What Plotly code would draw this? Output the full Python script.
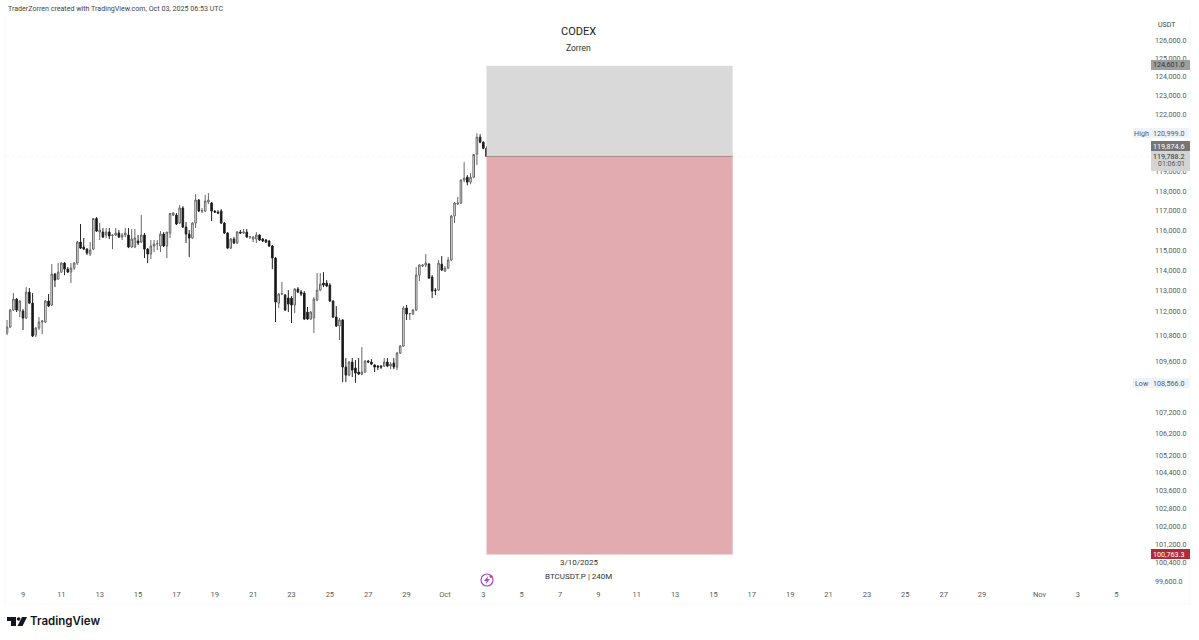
import pandas as pd
import numpy as np
import plotly.graph_objects as go

# BTCUSDT.P 4H candles
open_prices = [110940, 111230, 112053, 112589, 112005, 112005, 111666, 112932, 112394, 110844,
    111181, 111472, 111472, 112492, 112297, 113818, 113572, 113917, 114364, 114065,
    113917, 114115, 114364, 115415, 115165, 115060, 114812, 115060, 116600, 115915,
    115915, 115765, 115915, 115740, 115765, 115865, 115665, 115765, 115765, 115165,
    115165, 115465, 115415, 115765, 115060, 114812, 115215, 115315, 115215, 115815,
    115215, 115865, 116775, 116775, 116370, 117130, 116170, 115815, 115615, 116370,
    117540, 116975, 116975, 117440, 117385, 116975, 116925, 116975, 116370, 115865,
    115110, 115565, 115365, 115915, 115865, 115915, 115665, 115565, 115565, 115765,
    115565, 115515, 115465, 115215, 114612, 112394, 112834, 112785, 112640, 112640,
    112297, 113080, 112932, 112883, 111957, 111617, 111666, 112540, 113030, 113375,
    113375, 113277, 112492, 111714, 111278, 111569, 109313, 108932, 109551, 109265,
    109075, 108980, 109075, 109598, 109551, 109408, 109360, 109360, 109360, 109551,
    109360, 109503, 109313, 109980, 110315, 112150, 111860, 111860, 112053, 113770,
    114215, 114264, 114314, 113670, 113030, 113030, 114314, 113967, 114115, 114514,
    116725, 117335, 117385, 118560, 118710, 118455, 118710, 119910, 120790, 120527,
    120211]
high_prices = [111569, 112100, 112883, 112640, 112540, 112100, 113178, 113130, 112883, 111230,
    111714, 111560, 112540, 112834, 114314, 113868, 114364, 114414, 114414, 114165,
    114364, 114414, 115465, 116320, 115615, 115110, 115415, 116620, 116670, 116370,
    116115, 116115, 116115, 115790, 116115, 116016, 115865, 116115, 116115, 116065,
    116065, 115765, 116775, 115865, 115110, 115515, 115515, 115515, 115965, 115915,
    115915, 116875, 116925, 116875, 117280, 117230, 116420, 116016, 116420, 117845,
    117590, 117130, 117795, 117895, 117440, 117025, 117025, 117080, 116420, 115915,
    115615, 115665, 115965, 116016, 116065, 116065, 115715, 115715, 115915, 115815,
    115615, 115565, 115515, 115265, 114662, 112883, 113425, 112834, 113030, 112736,
    113130, 113178, 113030, 112981, 112200, 112005, 112690, 113868, 113868, 113917,
    113523, 113375, 112540, 112248, 111666, 111617, 109740, 109598, 109740, 109646,
    109740, 110267, 109646, 109646, 109693, 109455, 109408, 109408, 109740, 109740,
    109551, 109740, 110028, 110363, 112248, 112297, 111908, 112100, 114165, 114314,
    114314, 114812, 114364, 113770, 113130, 114514, 114712, 114215, 114662, 116775,
    117440, 117695, 118610, 119490, 118820, 118920, 119910, 120999, 120950, 120580,
    120320]
low_prices = [110844, 111181, 112005, 111957, 111714, 111084, 111617, 112345, 110748, 110748,
    111084, 110892, 111423, 112200, 112248, 113178, 113523, 113868, 113770, 113868,
    113375, 114016, 114264, 115060, 115012, 114762, 114712, 115012, 115915, 115515,
    115615, 115615, 115565, 115060, 115715, 115615, 115515, 115665, 115110, 115110,
    115110, 115265, 115365, 114612, 114364, 114564, 114912, 115012, 114912, 115165,
    114612, 115615, 116725, 116270, 116320, 116120, 115365, 114662, 115565, 116120,
    116925, 116875, 116925, 117335, 116470, 116875, 116825, 116320, 115815, 115060,
    115060, 115315, 115315, 115815, 115815, 115615, 115565, 115415, 115365, 115465,
    115415, 115365, 115165, 114065, 111472, 112150, 112785, 112005, 111957, 111423,
    111908, 112883, 112736, 111569, 111569, 111569, 110940, 112492, 112981, 113178,
    113178, 112443, 111666, 111230, 110604, 108600, 108600, 108885, 108837, 108566,
    108932, 108932, 109027, 109503, 109408, 109075, 109170, 109218, 109313, 109313,
    109218, 109218, 109170, 109932, 110267, 111569, 111569, 111811, 112005, 113473,
    114165, 114165, 113572, 112640, 112785, 112981, 113967, 113917, 114065, 114464,
    116370, 117280, 117335, 118455, 118295, 118350, 118660, 119335, 120475, 120160,
    119755]
close_prices = [111230, 112053, 112589, 112053, 112492, 111666, 112932, 112394, 110796, 111181,
    111472, 111520, 112492, 112248, 113818, 113523, 113917, 114364, 114065, 113917,
    114115, 114364, 115415, 115110, 115060, 114862, 115012, 116600, 115965, 116016,
    115665, 115915, 115715, 115765, 115865, 115665, 115765, 115865, 115165, 115565,
    115615, 115365, 115765, 115060, 114812, 115215, 115315, 115330, 115815, 115215,
    115915, 116850, 116875, 116320, 117130, 116170, 115815, 115615, 116370, 117540,
    116975, 117000, 117490, 117540, 116975, 116925, 116875, 116370, 115865, 115110,
    115565, 115365, 115915, 115865, 115915, 115665, 115690, 115665, 115765, 115515,
    115465, 115415, 115215, 114612, 112443, 112834, 112860, 112053, 112345, 112297,
    113080, 112932, 112834, 111617, 111617, 111957, 112589, 113030, 113326, 113277,
    113228, 112492, 111714, 111278, 111569, 109313, 108932, 109551, 109170, 109027,
    108980, 109075, 109598, 109551, 109455, 109313, 109313, 109313, 109551, 109360,
    109455, 109313, 109980, 110315, 112150, 111860, 111885, 112053, 113770, 114264,
    114264, 114364, 113622, 112981, 113005, 114364, 114016, 114115, 114514, 116725,
    117385, 117385, 118560, 118660, 118455, 118710, 119885, 120790, 120527, 120211,
    119788]

y_ticks = [126000, 125000, 124000, 123000, 122000, 119000, 118000, 117000, 116000, 115000,
    114000, 113000, 112000, 110800, 109600, 107200, 106200, 105200, 104400, 103600,
    102800, 102000, 101200, 100400, 99600]
x_tick_dates = ["2025-09-09", "2025-09-11", "2025-09-13", "2025-09-15", "2025-09-17", "2025-09-19",
    "2025-09-21", "2025-09-23", "2025-09-25", "2025-09-27", "2025-09-29", "2025-10-01", "2025-10-03",
    "2025-10-05", "2025-10-07", "2025-10-09", "2025-10-11", "2025-10-13", "2025-10-15", "2025-10-17",
    "2025-10-19", "2025-10-21", "2025-10-23", "2025-10-25", "2025-10-27", "2025-10-29", "2025-11-01",
    "2025-11-03", "2025-11-05"]
x_tick_labels = ["9", "11", "13", "15", "17", "19", "21", "23", "25", "27", "29", "Oct", "3", "5", "7",
    "9", "11", "13", "15", "17", "19", "21", "23", "25", "27", "29", "Nov", "3", "5"]

# short position tool levels
target_price = 124601.0
entry_price = 119788.2
stop_price = 100763.3
zone_start = "2025-10-03 04:00"
zone_end = "2025-10-16 00:00"

WIDTH, HEIGHT = 1199, 640
LEFT, RIGHT, TOP, BOTTOM = 6, 1150, 20, 588
FONT = "Roboto"
TICK_COLOR = "#5a5a5a"


def px(x):
    return (x - LEFT) / (RIGHT - LEFT)


def py(y):
    return (BOTTOM - y) / (BOTTOM - TOP)


candle_times = pd.date_range("2025-09-08 04:00", periods=len(open_prices), freq="4h")

fig = go.Figure()
fig.add_trace(go.Candlestick(
    x=candle_times,
    open=open_prices,
    high=high_prices,
    low=low_prices,
    close=close_prices,
    increasing=dict(line=dict(color="#666666", width=1), fillcolor="#ffffff"),
    decreasing=dict(line=dict(color="#222222", width=1), fillcolor="#111111"),
    showlegend=False,
))

# faint current price line, then the two zones
fig.add_shape(type="line", xref="paper", x0=0, x1=1, yref="y", y0=entry_price, y1=entry_price,
              line=dict(color="#f4f4f4", width=1, dash="dot"), layer="below")
fig.add_shape(type="rect", x0=zone_start, x1=zone_end, y0=entry_price, y1=target_price,
              fillcolor="#d9d9d9", line_width=0, layer="above")
fig.add_shape(type="rect", x0=zone_start, x1=zone_end, y0=stop_price, y1=entry_price,
              fillcolor="#e2abb0", line_width=0, layer="above")
fig.add_shape(type="line", x0=zone_start, x1=zone_end, y0=entry_price, y1=entry_price,
              line=dict(color="#a88a8c", width=1), layer="above")


def label(x, y, text, size=7.2, color=TICK_COLOR, anchor="center", **kw):
    fig.add_annotation(x=px(x), y=py(y), xref="paper", yref="paper", text=text, showarrow=False,
                       xanchor=anchor, yanchor="middle", font=dict(family=FONT, size=size, color=color), **kw)


def price_box(y0, y1, color):
    fig.add_shape(type="rect", xref="paper", yref="paper", x0=px(1151), x1=px(1190), y0=py(y0), y1=py(y1),
                  fillcolor=color, line_width=0, layer="above")


# chart frame, barely visible
frame = f"M{px(5)},{py(18)} V{py(604)} H{px(1190)} V{py(18)}"
fig.add_shape(type="path", xref="paper", yref="paper", path=frame, line=dict(color="#f7f7f7", width=1), layer="below")

# drawing tool captions
label(578, 32, "CODEX", size=11, color="#222222")
label(578, 48, "Zorren", size=8.5, color="#333333")
label(579, 562, "3/10/2025", size=8, color="#333333")
label(578.5, 576, "BTCUSDT.P | 240M", size=8, color="#333333")

# header, axis title
label(6, 8, "TraderZorren created with TradingView.com, Oct 03, 2025 06:53 UTC", size=7.1, color="#444444", anchor="left")
label(1167, 25, "USDT", size=7, color="#444444")

# price scale labels sit on top of the ticks
price_box(60, 70, "#9e9e9e")
label(1187, 65, "124,601.0", color="#333333", anchor="right")
price_box(141, 151, "#757575")
label(1187, 146, "119,874.6", color="#ffffff", anchor="right")
price_box(151, 171, "#d4d4d4")
label(1187, 156, "119,788.2", color="#333333", anchor="right")
label(1187, 164, "01:06:01", size=7, color="#555555", anchor="right")
price_box(549, 559, "#b02a37")
label(1187, 554, "100,763.3", color="#ffffff", anchor="right")

fig.add_shape(type="rect", xref="paper", yref="paper", x0=px(1133), x1=px(1189), y0=py(128), y1=py(138),
              fillcolor="#eef2fa", line_width=0, layer="above")
label(1141, 133, "High")
label(1187, 133, "120,999.0", anchor="right")
fig.add_shape(type="rect", xref="paper", yref="paper", x0=px(1133), x1=px(1189), y0=py(378), y1=py(388),
              fillcolor="#eef2fa", line_width=0, layer="above")
label(1142, 383, "Low")
label(1187, 383, "108,566.0", anchor="right")

# lightning badge under the axis
fig.add_shape(type="circle", xref="paper", yref="paper", x0=px(481), x1=px(493), y0=py(586), y1=py(574),
              line=dict(color="#a24bc4", width=1.2), fillcolor="#ffffff", layer="above")
bolt = (f"M{px(488.5)},{py(575.5)} L{px(484)},{py(581)} H{px(486.7)} L{px(485.5)},{py(584.5)} "
        f"L{px(490)},{py(579)} H{px(487.3)} Z")
fig.add_shape(type="path", xref="paper", yref="paper", path=bolt, fillcolor="#a24bc4", line_width=0, layer="above")
fig.add_shape(type="circle", xref="paper", yref="paper", x0=px(489.5), x1=px(492.5), y0=py(578), y1=py(575),
              fillcolor="#e0457b", line_width=0, layer="above")

# TradingView logo
logo = (f"M{px(7)},{py(617)} H{px(16)} V{py(626)} H{px(11)} V{py(621)} H{px(7)} Z "
        f"M{px(22)},{py(617)} H{px(27)} L{px(22.5)},{py(626)} H{px(17.5)} Z")
fig.add_shape(type="path", xref="paper", yref="paper", path=logo, fillcolor="#131722", line_width=0)
fig.add_shape(type="circle", xref="paper", yref="paper", x0=px(16.8), x1=px(20.4), y0=py(620.8), y1=py(617.2),
              fillcolor="#131722", line_width=0)
fig.add_annotation(x=px(28), y=py(621.5), xref="paper", yref="paper", text="TradingView", showarrow=False,
                   xanchor="left", yanchor="middle", font=dict(family="Inter", size=11.5, color="#131722", weight=600))

fig.update_layout(
    width=WIDTH,
    height=HEIGHT,
    margin=dict(l=LEFT, r=WIDTH - RIGHT, t=TOP, b=HEIGHT - BOTTOM, pad=0),
    paper_bgcolor="#ffffff",
    plot_bgcolor="#ffffff",
    font=dict(family=FONT),
)
fig.update_xaxes(
    type="date",
    range=["2025-09-08 02:44", "2025-11-06 18:14"],
    rangeslider_visible=False,
    showgrid=False,
    zeroline=False,
    showline=False,
    tickmode="array",
    tickvals=x_tick_dates,
    ticktext=x_tick_labels,
    ticks="",
    tickfont=dict(size=7.5, color=TICK_COLOR),
)
fig.update_yaxes(
    type="log",
    side="right",
    range=[np.log10(99310), np.log10(127100)],
    showgrid=False,
    zeroline=False,
    showline=False,
    tickmode="array",
    tickvals=y_ticks,
    ticktext=[f"{v:,.1f}" for v in y_ticks],
    ticks="",
    ticklabelstandoff=4,
    tickfont=dict(size=7.2, color=TICK_COLOR),
)

# the page's default body margin would push the chart 8px off
fig.write_html("out.html", config={"displayModeBar": False}, post_script="document.body.style.margin = '0';")
